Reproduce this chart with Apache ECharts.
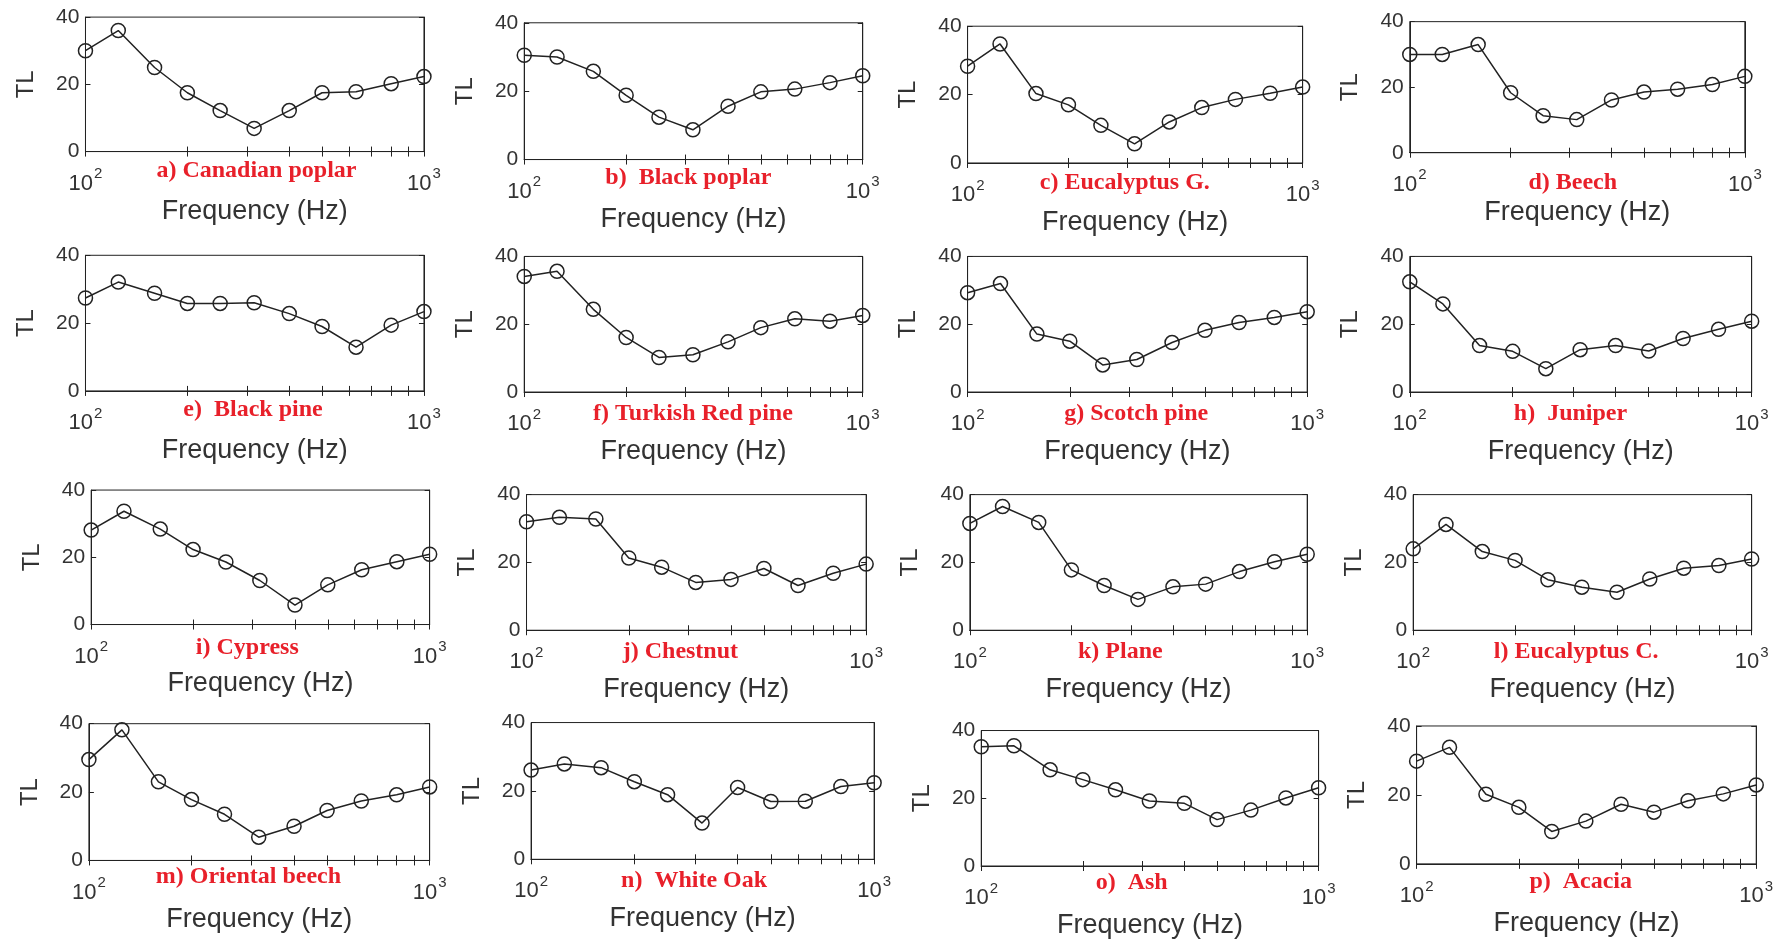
<!DOCTYPE html>
<html>
<head>
<meta charset="utf-8">
<script src="https://cdn.jsdelivr.net/npm/echarts@6/dist/echarts.min.js"></script>
<style>
html,body{margin:0;padding:0;background:#fff;}
#chart{width:1787px;height:940px;}
</style>
</head>
<body>
<div id="chart"></div>
<script>
// ---- data ----
const frequencies = [100, 125, 160, 200, 250, 315, 400, 500, 630, 800, 1000];
const yTicks = [0, 20, 40];
const xMajorTicks = [100, 1000];
const xMinorTicks = [100, 200, 300, 400, 500, 600, 700, 800, 900, 1000];

const panelTitles = ['a) Canadian poplar', 'b)  Black poplar', 'c) Eucalyptus G.', 'd) Beech',
  'e)  Black pine', 'f) Turkish Red pine', 'g) Scotch pine', 'h)  Juniper',
  'i) Cypress', 'j) Chestnut', 'k) Plane', 'l) Eucalyptus C.',
  'm) Oriental beech', 'n)  White Oak', 'o)  Ash', 'p)  Acacia'];

const canadianPoplar = [30, 36, 25, 17.5, 12.2, 6.9, 12.2, 17.5, 17.8, 20.2, 22.3];
const blackPoplar    = [30.5, 30, 25.8, 18.8, 12.4, 8.7, 15.6, 19.8, 20.6, 22.5, 24.5];
const eucalyptusG    = [28.3, 34.8, 20.3, 17, 11, 5.6, 12, 16.2, 18.6, 20.4, 22.2];
const beech          = [30, 30, 33, 18.3, 11.3, 10.1, 16.1, 18.5, 19.4, 20.8, 23.3];
const blackPine      = [27.4, 32.1, 28.8, 25.8, 25.8, 26, 22.8, 19, 12.9, 19.4, 23.4];
const turkishRedPine = [34.1, 35.6, 24.4, 16.1, 10.2, 11, 14.8, 19, 21.6, 20.9, 22.6];
const scotchPine     = [29.3, 32, 17.1, 15, 8, 9.6, 14.6, 18.2, 20.5, 22, 23.7];
const juniper        = [32.5, 26, 13.7, 12, 6.9, 12.5, 13.7, 12.1, 15.8, 18.5, 20.9];
const cypress        = [28.1, 33.7, 28.4, 22.3, 18.6, 13.1, 5.8, 11.8, 16.3, 18.7, 20.9];
const chestnut       = [32, 33.3, 32.8, 21.3, 18.6, 14.1, 15, 18.2, 13.2, 16.8, 19.5];
const plane          = [31.5, 36.5, 31.8, 17.8, 13.2, 9.1, 12.8, 13.6, 17.3, 20.2, 22.4];
const eucalyptusC    = [24, 31.2, 23.2, 20.6, 14.9, 12.7, 11.2, 15.1, 18.3, 19.1, 21];
const orientalBeech  = [29.5, 38.2, 23, 17.8, 13.5, 6.8, 10, 14.6, 17.4, 19.2, 21.5];
const whiteOak       = [26.1, 27.9, 26.8, 22.7, 18.9, 10.6, 21, 16.9, 17, 21.3, 22.4];
const ash            = [35.2, 35.5, 28.4, 25.5, 22.5, 19.2, 18.5, 13.7, 16.5, 20.1, 23.1];
const acacia         = [29.8, 33.8, 20.2, 16.4, 9.4, 12.4, 17.3, 15, 18.3, 20.3, 22.9];

const panelValues = [canadianPoplar, blackPoplar, eucalyptusG, beech,
  blackPine, turkishRedPine, scotchPine, juniper,
  cypress, chestnut, plane, eucalyptusC,
  orientalBeech, whiteOak, ash, acacia];

// ---- layout (measured on a 1568-wide copy, scaled to 1787) ----
const S = 1787 / 1568;
const boxes = [ // [left, right, top, bottom]
  [75, 372, 15, 133], [460, 757, 20, 140], [849, 1143, 23, 143], [1237, 1531, 19, 134],
  [75, 372, 224, 343], [460, 757, 225, 344], [849, 1147, 225, 344], [1237, 1537, 225, 344],
  [80, 377, 430, 548], [462, 760, 434, 553], [851, 1147, 434, 553], [1240, 1537, 434, 553],
  [78, 377, 635, 755], [466, 767, 634, 754], [861, 1157, 641, 760], [1243, 1541, 637, 758]
];
const titlePos = [
  [225, 150], [604, 156], [987, 160], [1380, 160],
  [222, 360], [608, 363], [997, 363], [1378, 363],
  [217, 568], [597, 572], [983, 572], [1383, 572],
  [218, 769], [609, 773], [993, 775], [1387, 774]
];

const axisColor = '#222';
const textColor = '#333';
const sans = 'Liberation Sans, Arial, sans-serif';

const grids = [], xAxes = [], yAxes = [], series = [], titles = [];
panelValues.forEach((vals, i) => {
  const [L, R, T, B] = boxes[i];
  grids.push({left: L * S, top: T * S, width: (R - L) * S, height: (B - T) * S,
    show: true, borderColor: axisColor, borderWidth: 1, backgroundColor: 'transparent'});
  const common = {
    type: 'log', logBase: 10, min: 100, max: 1000, gridIndex: i,
    axisLine: {show: true, lineStyle: {color: axisColor, width: 1}},
    axisTick: {show: true, inside: true, length: 5, customValues: xMinorTicks, lineStyle: {color: axisColor}},
    splitLine: {show: false}, minorTick: {show: false}, minorSplitLine: {show: false}
  };
  xAxes.push(Object.assign({}, common, {
    position: 'bottom',
    axisLabel: {
      customValues: xMajorTicks, margin: 15, color: textColor,
      formatter: v => '{b|10}{s|' + Math.round(Math.log10(v)) + '}',
      rich: {
        b: {fontSize: 22, fontFamily: sans, color: textColor, lineHeight: 28, verticalAlign: 'bottom'},
        s: {fontSize: 15, fontFamily: sans, color: textColor, lineHeight: 28, verticalAlign: 'top', padding: [0, 0, 8, 1]}
      }
    },
    name: 'Frequency (Hz)', nameLocation: 'middle', nameGap: 46,
    nameTextStyle: {fontSize: 27, fontFamily: sans, color: textColor}
  }));
  xAxes.push(Object.assign({}, common, {position: 'top', axisLabel: {show: false}}));
  const ycommon = {
    type: 'value', min: 0, max: 40, interval: 20, gridIndex: i,
    axisLine: {show: true, lineStyle: {color: axisColor, width: 1}},
    axisTick: {show: true, inside: true, length: 5, customValues: yTicks, lineStyle: {color: axisColor}},
    splitLine: {show: false}
  };
  yAxes.push(Object.assign({}, ycommon, {
    position: 'left',
    axisLabel: {customValues: yTicks, margin: 6, fontSize: 21, fontFamily: sans, color: textColor},
    name: 'TL', nameLocation: 'middle', nameGap: 47,
    nameTextStyle: {fontSize: 24, fontFamily: sans, color: textColor}
  }));
  yAxes.push(Object.assign({}, ycommon, {position: 'right', axisLabel: {show: false}}));
  series.push({
    type: 'line', xAxisIndex: 2 * i, yAxisIndex: 2 * i,
    data: frequencies.map((f, k) => [f, vals[k]]),
    symbol: 'circle', symbolSize: 14,
    lineStyle: {color: axisColor, width: 1.5},
    itemStyle: {color: 'rgba(0,0,0,0)', borderColor: axisColor, borderWidth: 1.5},
    animation: false, silent: true
  });
  titles.push({
    text: panelTitles[i], left: titlePos[i][0] * S, top: titlePos[i][1] * S,
    textAlign: 'center', textVerticalAlign: 'middle', padding: 0,
    textStyle: {fontFamily: 'Liberation Serif, Times New Roman, serif', fontWeight: 'bold', fontSize: 24, color: '#e8202a'}
  });
});

const chart = echarts.init(document.getElementById('chart'), null, {renderer: 'canvas'});
chart.setOption({
  backgroundColor: '#fff',
  animation: false,
  title: titles,
  grid: grids,
  xAxis: xAxes,
  yAxis: yAxes,
  series: series
});
</script>
</body>
</html>
